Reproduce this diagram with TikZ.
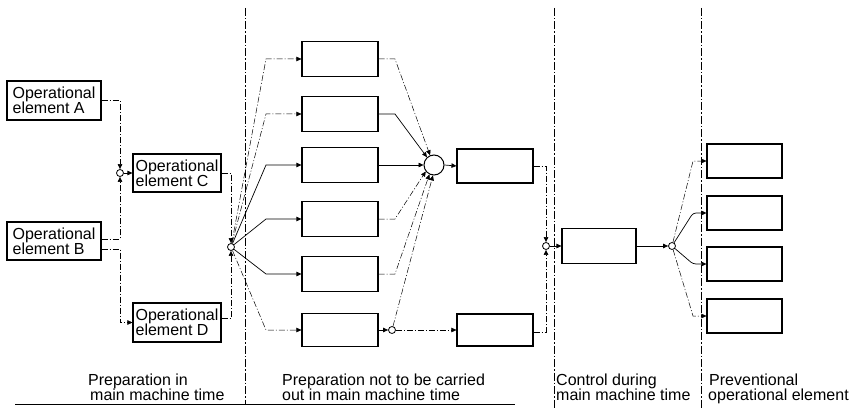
\documentclass[tikz,border=0pt]{standalone}
\usepackage{fontspec}
\setmainfont{Liberation Sans}
\usetikzlibrary{arrows.meta,calc}
\begin{document}
\begin{tikzpicture}[x=1pt,y=-1pt,
  box/.style={draw,line width=1.1pt,minimum width=76pt,minimum height=35pt,inner sep=0pt},
  opbox/.style={draw,line width=1.1pt,align=left,inner sep=1pt,font=\fontsize{16}{15}\selectfont},
  junc/.style={circle,draw,fill=white,line width=0.8pt,minimum size=7pt,inner sep=0pt},
  conn/.style={line width=0.7pt},
  dd/.style={line width=0.5pt,dash pattern=on 6pt off 2pt on 1pt off 2pt},
  tip/.style={-{Triangle[length=5pt,width=4.5pt]}},
  sep/.style={line width=0.5pt,dash pattern=on 8pt off 2pt on 1.5pt off 2pt},
  lab/.style={anchor=base west,inner sep=0pt,font=\fontsize{16}{15}\selectfont}]
\useasboundingbox (0,0) rectangle (859,409);

% separators
\draw[sep] (245,8) -- (245,405);
\draw[sep] (554,8) -- (554,408);
\draw[sep] (701,8) -- (701,409);
\draw[line width=0.8pt] (15,404) -- (515,404);

% left boxes
\node[opbox,minimum width=94pt,minimum height=39pt] (A) at (54,100.5) {Operational\\element A};
\node[opbox,minimum width=94pt,minimum height=38pt] (B) at (54,241) {Operational\\element B};
\node[opbox,minimum width=88pt,minimum height=38pt] (C) at (177,173) {Operational\\element C};
\node[opbox,minimum width=88pt,minimum height=39pt] (D) at (177,322.5) {Operational\\element D};

% junctions
\node[junc] (J1) at (120,173) {};
\node[junc] (J2) at (231,247) {};
\node[junc] (S) at (392,330) {};
\node[junc] (J3) at (546,246) {};
\node[junc] (J4) at (672,246) {};
\node[circle,draw,fill=white,line width=1pt,minimum size=20pt,inner sep=0pt] (K) at (434,165) {};

% middle boxes
\node[box] (M1) at (340,59) {};
\node[box] (M2) at (340,114) {};
\node[box] (M3) at (340,165) {};
\node[box] (M4) at (340,219) {};
\node[box] (M5) at (340,274) {};
\node[box,minimum height=33pt] (M6) at (340,330) {};

% right boxes
\node[box,minimum height=34pt] (R1) at (495,166) {};
\node[box,minimum height=32pt] (R2) at (495,330) {};
\node[box,minimum width=74pt] (Ctl) at (599,246) {};
\node[box,minimum width=75pt,minimum height=34pt] (P1) at (744.5,161) {};
\node[box,minimum width=75pt,minimum height=34pt] (P2) at (744.5,213) {};
\node[box,minimum width=75pt,minimum height=34pt] (P3) at (744.5,264) {};
\node[box,minimum width=75pt,minimum height=34pt] (P4) at (744.5,316) {};

% bend coordinates
\coordinate (bx) at (266,0);
\coordinate (kx) at (395,0);
\coordinate (px) at (693,0);

% left connections
\draw[dd,tip] (A.east) -| (J1.north);
\draw[dd,tip] ([yshift=2pt]B.east) -| (J1.south);
\draw[conn,tip] (J1) -- (C.west);
\draw[dd,tip] ([yshift=-8pt]B.east) -| (J1 |- D.west) -- (D.west);
\draw[dd,tip] (C.east) -| (J2.north);
\draw[dd,tip] ([yshift=4pt]D.east) -| (J2.south);

% J2 fan-out
\draw[dd,tip] (J2) -- (bx |- M1.west) -- (M1.west);
\draw[dd,tip] (J2) -- (bx |- M2.west) -- (M2.west);
\draw[conn,tip] (J2) -- (bx |- M3.west) -- (M3.west);
\draw[conn,tip] (J2) -- (bx |- M4.west) -- (M4.west);
\draw[conn,tip] (J2) -- (bx |- M5.west) -- (M5.west);
\draw[dd,tip] (J2) -- (bx |- M6.west) -- (M6.west);

% into K
\draw[dd,tip] (M1.east) -- (kx |- M1.east) -- (K.112);
\draw[conn,tip] (M2.east) -- (kx |- M2.east) -- (K.132);
\draw[conn,tip] (M3.east) -- (K.west);
\draw[dd,tip] (M4.east) -- (kx |- M4.east) -- (K.218);
\draw[dd,tip] (M5.east) -- (kx |- M5.east) -- (K.244);
\draw[conn,tip] (M6.east) -- (S.west);
\draw[dd,tip] (S) -- (K.264);
\draw[dd,tip] (S.east) -- (R2.west);
\draw[conn,tip] (K.east) -- (R1.west);

% J3
\draw[dd,tip] (R1.east) -| (J3.north);
\draw[dd,tip] ([yshift=-2pt]R2.east) -| (J3.south);
\draw[conn,tip] (J3.east) -- (Ctl.west);
\draw[conn,tip] (Ctl.east) -- (J4.west);

% J4 fan-out
\draw[dd,tip] (J4) -- (px |- P1.west) -- (P1.west);
\draw[conn,tip,rounded corners=3pt] (J4) -- (px |- P2.west) -- (P2.west);
\draw[conn,tip,rounded corners=3pt] (J4) -- (px |- P3.west) -- (P3.west);
\draw[dd,tip] (J4) -- (px |- P4.west) -- (P4.west);

% labels
\node[lab] (l1a) at (88,385) {Preparation in};
\node[lab] (l1b) at (90,400) {main machine time};
\node[lab] (l2a) at (282,385) {Preparation not to be carried};
\node[lab] (l2b) at (282,400) {out in main machine time};
\node[lab] (l3a) at (556,385) {Control during};
\node[lab] (l3b) at (556,400) {main machine time};
\node[lab] (l4a) at (709,385) {Preventional};
\node[lab] (l4b) at (708,400) {operational element};
\end{tikzpicture}
\end{document}
